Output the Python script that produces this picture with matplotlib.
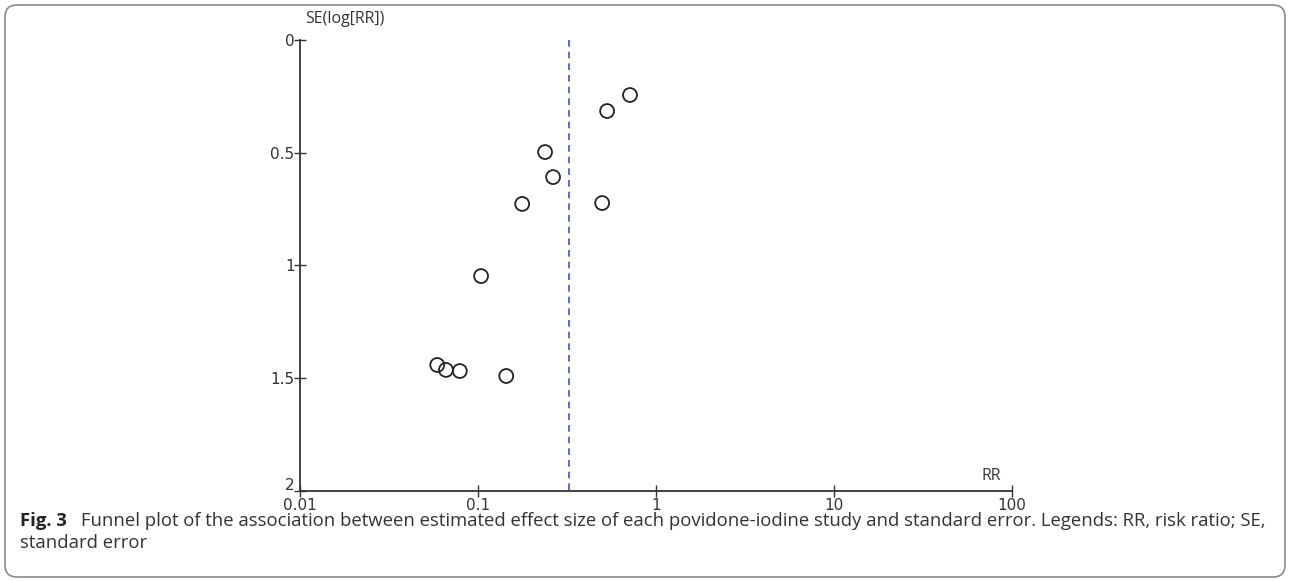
import matplotlib
matplotlib.use("Agg")
import matplotlib.pyplot as plt
from matplotlib.patches import FancyBboxPatch
from matplotlib.transforms import ScaledTranslation

# study estimates
rr = [0.714, 0.531, 0.238, 0.264, 0.177, 0.498, 0.104, 0.059, 0.066, 0.079, 0.144]
se = [0.244, 0.315, 0.497, 0.608, 0.727, 0.723, 1.047, 1.441, 1.463, 1.468, 1.490]
pooled_rr = 0.324

xticks = [0.01, 0.1, 1, 10, 100]
xtick_labels = ["0.01", "0.1", "1", "10", "100"]
yticks = [0, 0.5, 1, 1.5, 2]
ytick_labels = ["0", "0.5", "1", "1.5", "2"]

caption_bold = "Fig. 3"
caption_rest = ("Funnel plot of the association between estimated effect size of each povidone-iodine "
                "study and standard error. Legends: RR, risk ratio; SE,")
caption_line2 = "standard error"

fig = plt.figure(figsize=(12.9, 5.81), dpi=100)
ax = fig.add_axes([0.2326, 0.1549, 0.5519, 0.7763])

ax.scatter(rr, se, s=100, facecolors="none", edgecolors="#222222", linewidths=1.3, zorder=3)
ax.plot([pooled_rr, pooled_rr], [0, 2], color="#3a55d0", lw=1.2, ls=(0, (4, 3)), zorder=2)

ax.set_xscale("log")
ax.set_xlim(0.01, 100)
ax.set_ylim(2, 0)
ax.set_xticks(xticks)
ax.set_xticklabels(xtick_labels)
ax.set_yticks(yticks)
ax.set_yticklabels(ytick_labels)
ax.minorticks_off()
ax.tick_params(direction="inout", length=8, width=1, color="#333333", labelsize=11,
               labelcolor="#333333", pad=1)
ax.tick_params(axis="x", pad=1)
ax.tick_params(axis="y", pad=0)
for s in ["top", "right"]:
    ax.spines[s].set_visible(False)
for s in ["left", "bottom"]:
    ax.spines[s].set_color("#333333")
    ax.spines[s].set_linewidth(1.3)
ax.patch.set_alpha(0)

# lift the bottom "2" a little so it sits above the "0.01"
lab2 = ax.get_yticklabels()[-1]
lab2.set_transform(lab2.get_transform() + ScaledTranslation(0, 5 / 72, fig.dpi_scale_trans))

ax.annotate("SE(log[RR])", xy=(0, 1), xycoords="axes fraction", xytext=(4, 9),
            textcoords="offset points", fontsize=11.5, color="#333333", ha="left", va="bottom",
            family="Open Sans")
ax.annotate("RR", xy=(1, 0), xycoords="axes fraction", xytext=(-8, 5),
            textcoords="offset points", fontsize=11.5, color="#333333", ha="right", va="bottom",
            family="Open Sans")

# caption
cap_y1 = 1 - 521 / 581
cap_y2 = 1 - 543 / 581
fig.text(20 / 1290, cap_y1, caption_bold, fontsize=13.3, fontweight="bold",
         family="Open Sans", color="#222222", va="center", ha="left")
fig.text(81 / 1290, cap_y1, caption_rest, fontsize=13.3, family="Open Sans",
         color="#333333", va="center", ha="left")
fig.text(20 / 1290, cap_y2, caption_line2, fontsize=13.3, family="Open Sans",
         color="#333333", va="center", ha="left")

# rounded frame
frame = FancyBboxPatch((0.05, 0.04), 12.8, 5.72, boxstyle="round,pad=0,rounding_size=0.12",
                       transform=fig.dpi_scale_trans, fill=False, edgecolor="#8a8a8a", lw=1.2)
fig.patches.append(frame)

fig.savefig("out.png", dpi=100)
